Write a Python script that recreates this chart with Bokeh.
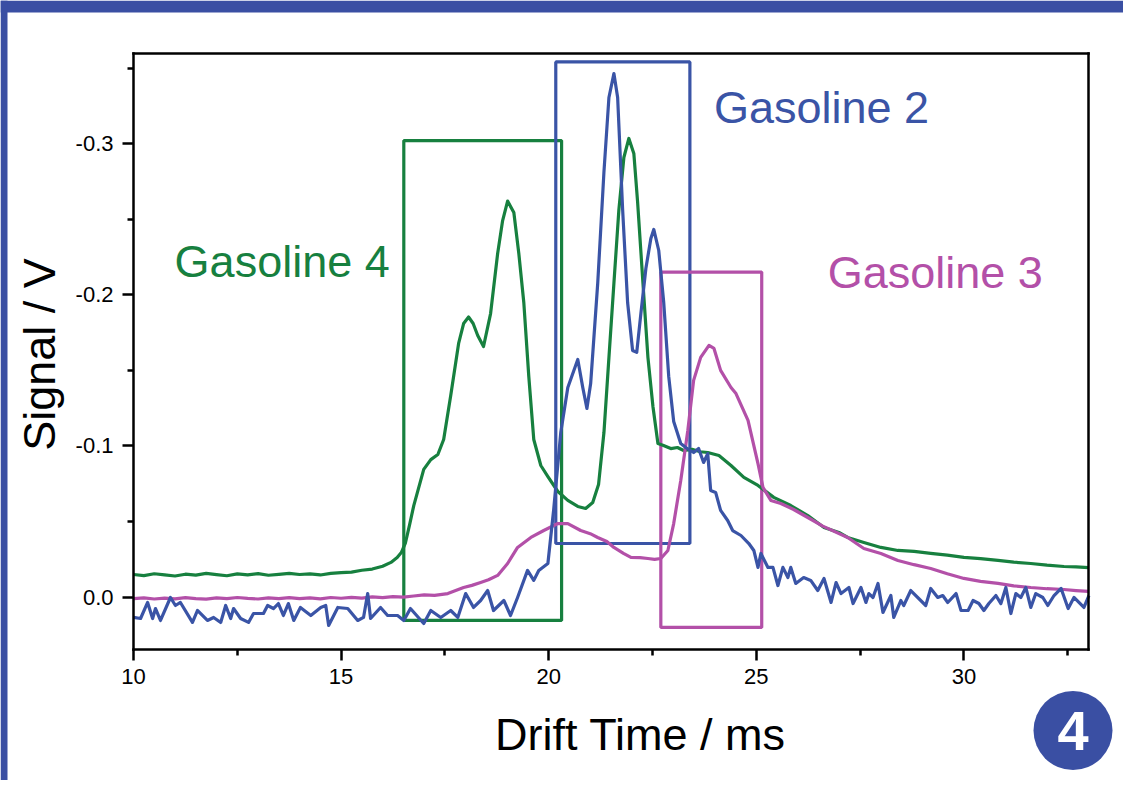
from bokeh.plotting import figure
from bokeh.models import Range1d, FixedTicker, PrintfTickFormatter, Label, BoxAnnotation, LinearAxis
from bokeh.embed import file_html
from bokeh.resources import INLINE

# ---------------- data ----------------
g4_x = [10.0,10.25,10.5,10.75,11.0,11.25,11.5,11.75,12.0,12.25,12.5,12.75,13.0,13.25,13.5,13.75,14.0,14.25,14.5,14.75,
        15.0,15.25,15.5,15.75,16.0,16.2,16.35,16.45,16.55,16.65,16.75,16.99,17.16,17.33,17.47,17.64,17.83,17.95,18.07,18.18,
        18.29,18.43,18.60,18.77,18.89,19.01,19.16,19.28,19.40,19.52,19.64,19.81,19.98,20.22,20.46,20.70,20.89,21.06,21.20,21.33,
        21.45,21.57,21.69,21.81,21.93,22.05,22.14,22.27,22.39,22.51,22.63,22.75,22.94,23.10,23.25,23.45,23.65,23.83,24.10,24.39,
        24.70,25.04,25.42,25.83,26.24,26.63,26.99,27.20,27.59,28.00,28.41,28.80,29.20,29.60,30.00,30.40,30.82,31.20,31.61,32.00,
        32.41,32.70,33.0]
g4_y = [-0.0150,-0.0143,-0.0155,-0.0147,-0.0140,-0.0152,-0.0146,-0.0157,-0.0149,-0.0142,-0.0154,-0.0148,-0.0156,-0.0145,-0.0151,-0.0158,-0.0150,-0.0154,-0.0147,-0.0157,
        -0.0162,-0.0166,-0.0178,-0.0186,-0.0205,-0.0230,-0.0262,-0.0295,-0.0360,-0.0480,-0.0606,-0.0845,-0.0910,-0.0944,-0.1043,-0.1334,-0.1678,-0.1810,-0.1853,-0.1810,
        -0.1731,-0.1658,-0.1876,-0.2273,-0.2491,-0.2620,-0.2544,-0.2273,-0.1949,-0.1460,-0.1043,-0.0871,-0.0798,-0.0699,-0.0640,-0.0600,-0.0587,-0.0626,-0.0745,-0.1089,
        -0.1585,-0.2075,-0.2564,-0.2908,-0.3034,-0.2935,-0.2617,-0.2075,-0.1585,-0.1261,-0.1016,-0.1005,-0.0983,-0.0990,-0.0970,-0.0978,-0.0962,-0.0957,-0.0937,-0.0871,
        -0.0792,-0.0739,-0.0660,-0.0606,-0.0540,-0.0461,-0.0428,-0.0395,-0.0362,-0.0329,-0.0309,-0.0303,-0.0290,-0.0278,-0.0263,-0.0255,-0.0243,-0.0232,-0.0223,-0.0212,
        -0.0203,-0.0200,-0.0196]

g3_x = [10.0,10.25,10.5,10.75,11.0,11.25,11.5,11.75,12.0,12.25,12.5,12.75,13.0,13.25,13.5,13.75,14.0,14.25,14.5,14.75,
        15.0,15.25,15.5,15.75,16.0,16.25,16.5,16.75,17.0,17.25,17.57,17.95,18.15,18.36,18.55,18.77,19.01,19.25,19.57,19.88,
        20.22,20.46,20.77,21.0,21.18,21.4,21.57,21.8,21.98,22.2,22.39,22.55,22.70,22.87,23.01,23.18,23.35,23.49,23.66,23.86,
        23.98,24.14,24.39,24.51,24.80,25.04,25.16,25.35,25.59,25.9,26.24,26.6,26.99,27.20,27.59,28.00,28.41,28.8,29.20,29.6,
        30.00,30.4,30.82,31.2,31.61,32.0,32.41,32.7,33.0]
g3_y = [0.0010,0.0004,0.0012,0.0006,0.0011,0.0003,0.0009,0.0013,0.0005,0.0010,0.0002,0.0008,0.0012,0.0004,0.0009,0.0003,0.0010,0.0005,0.0011,0.0002,
        0.0007,0.0001,0.0006,-0.0002,0.0003,-0.0004,0.0000,-0.0008,-0.0015,-0.0012,-0.0024,-0.0064,-0.0078,-0.0097,-0.0115,-0.0144,-0.0223,-0.0329,-0.0395,-0.0441,
        -0.0487,-0.0487,-0.0441,-0.0420,-0.0395,-0.0368,-0.0329,-0.0290,-0.0263,-0.0262,-0.0256,-0.0250,-0.0256,-0.0309,-0.0487,-0.0772,-0.1103,-0.1434,-0.1586,-0.1665,
        -0.1645,-0.1500,-0.1387,-0.1347,-0.1169,-0.0884,-0.0726,-0.0640,-0.0620,-0.0580,-0.0527,-0.0470,-0.0421,-0.0395,-0.0322,-0.0289,-0.0243,-0.0215,-0.0190,-0.0155,
        -0.0124,-0.0105,-0.0091,-0.0075,-0.0064,-0.0056,-0.0051,-0.0044,-0.0038]

g2_x = [10.00,10.17,10.34,10.46,10.53,10.65,10.89,11.01,11.13,11.42,11.54,11.78,11.93,12.10,12.22,12.34,12.41,12.58,12.77,12.89,
        13.13,13.23,13.37,13.49,13.61,13.73,13.86,14.02,14.27,14.51,14.63,14.70,14.92,15.16,15.40,15.54,15.64,15.71,15.95,16.12,
        16.36,16.51,16.67,16.99,17.16,17.40,17.64,17.81,18.00,18.19,18.36,18.53,18.67,18.92,19.08,19.25,19.49,19.64,19.76,19.98,
        20.12,20.29,20.46,20.70,20.82,20.92,21.01,21.18,21.33,21.45,21.57,21.66,21.78,21.90,22.02,22.12,22.22,22.34,22.46,22.53,
        22.65,22.77,22.89,23.01,23.18,23.30,23.49,23.61,23.73,23.83,23.90,24.02,24.14,24.31,24.43,24.63,24.82,24.94,25.04,25.11,
        25.28,25.40,25.52,25.64,25.76,25.83,25.95,26.14,26.31,26.48,26.63,26.80,26.92,27.04,27.23,27.33,27.52,27.64,27.71,27.81,
        27.93,28.05,28.24,28.31,28.48,28.55,28.72,29.08,29.20,29.37,29.49,29.61,29.81,29.93,30.10,30.22,30.36,30.48,30.60,30.77,
        30.89,31.01,31.13,31.25,31.37,31.49,31.61,31.73,31.90,32.02,32.17,32.34,32.51,32.65,32.89,33.01]
g2_y = [0.0134,0.0141,0.0035,0.0141,0.0075,0.0154,0.0002,0.0055,0.0035,0.0167,0.0088,0.0154,0.0134,0.0167,0.0055,0.0141,0.0075,0.0141,0.0167,0.0108,
        0.0108,0.0055,0.0075,0.0042,0.0121,0.0042,0.0154,0.0068,0.0121,0.0068,0.0055,0.0187,0.0068,0.0075,0.0154,0.0134,-0.0024,0.0141,0.0068,0.0121,
        0.0121,0.0154,0.0075,0.0174,0.0088,0.0134,0.0088,0.0134,-0.0024,0.0068,0.0022,-0.0044,0.0088,0.0022,0.0121,0.0002,-0.0177,-0.0111,-0.0177,-0.0223,
        -0.0580,-0.1089,-0.1387,-0.1572,-0.1387,-0.1248,-0.1413,-0.2075,-0.2812,-0.3305,-0.3463,-0.3305,-0.2564,-0.1949,-0.1632,-0.1619,-0.1877,-0.2174,-0.2373,-0.2432,
        -0.2293,-0.1949,-0.1460,-0.1162,-0.1016,-0.0990,-0.0957,-0.0983,-0.0891,-0.0950,-0.0706,-0.0693,-0.0574,-0.0507,-0.0441,-0.0408,-0.0355,-0.0309,-0.0197,-0.0289,
        -0.0197,-0.0197,-0.0077,-0.0197,-0.0130,-0.0197,-0.0091,-0.0130,-0.0111,-0.0044,-0.0124,0.0035,-0.0097,-0.0024,-0.0064,0.0042,-0.0064,0.0035,-0.0024,0.0002,
        -0.0091,0.0101,-0.0011,0.0134,0.0022,0.0055,-0.0044,0.0055,-0.0058,0.0002,-0.0011,0.0035,-0.0024,0.0088,0.0088,0.0022,0.0042,0.0088,0.0042,-0.0011,
        0.0042,-0.0064,0.0108,-0.0024,0.0002,-0.0064,0.0068,-0.0024,0.0002,0.0055,-0.0011,-0.0058,0.0075,0.0002,0.0068,-0.0011]

# highlight boxes: Gasoline 4, Gasoline 2, Gasoline 3
box_left = [16.51, 20.17, 22.70]
box_right = [20.31, 23.40, 25.13]
box_top = [-0.302, -0.354, -0.215]
box_bottom = [0.0154, -0.0355, 0.0200]

series_names = ["Gasoline 4", "Gasoline 2", "Gasoline 3"]
label_x = [10.99, 23.98, 26.72]
label_y = [-0.2114, -0.3133, -0.2042]   # text baselines

x_ticks = [10, 15, 20, 25, 30]
x_minor = [12.5, 17.5, 22.5, 27.5, 32.5]
y_ticks = [0.0, -0.1, -0.2, -0.3]
y_minor = [-0.05, -0.15, -0.25, -0.35]

# axis extents
X0, X1 = 10.0, 33.0
Y_BOTTOM, Y_TOP = 0.0346, -0.3596

GREEN = "#17803f"
BLUE = "#3a54a6"
MAGENTA = "#b350a8"
BAND = "#3a4fa3"
colors = [GREEN, BLUE, MAGENTA]
FONT = "Liberation Sans"

# ---------------- layout (pixels) ----------------
W, H = 1123, 780
PX_L, PX_R, PX_T, PX_B = 133, 1088, 53, 649
sx = (PX_R - PX_L) / (X1 - X0)
sy = (PX_B - PX_T) / (Y_BOTTOM - Y_TOP)
x_range = Range1d(X0 - PX_L / sx, X1 + (W - PX_R) / sx)
y_range = Range1d(Y_BOTTOM + (H - PX_B) / sy, Y_TOP - PX_T / sy)
BASE_SHIFT = 0.35   # renderer puts alphabetic baseline this many em lower

p = figure(width=W, height=H, output_backend="svg", toolbar_location=None,
           x_range=x_range, y_range=y_range, x_axis_location=None, y_axis_location=None,
           min_border=0, min_border_left=0, min_border_right=0, min_border_top=0, min_border_bottom=0)
p.background_fill_color = "white"
p.border_fill_color = "white"
p.outline_line_color = None
p.xgrid.visible = False
p.ygrid.visible = False


def style_axis(ax, ticks, minor, show):
    ax.ticker = FixedTicker(ticks=ticks if show else [], minor_ticks=minor if show else [])
    ax.axis_line_color = "black"
    ax.axis_line_width = 2.5
    ax.axis_line_cap = "square"
    ax.major_tick_line_color = "black"
    ax.major_tick_line_width = 2.5
    ax.minor_tick_line_color = "black"
    ax.minor_tick_line_width = 2.5
    ax.major_tick_in = 0
    ax.minor_tick_in = 0
    ax.major_tick_out = 11
    ax.minor_tick_out = 6
    ax.major_label_text_font = FONT
    ax.major_label_text_font_size = "22px"
    ax.major_label_text_color = "black"


xb = LinearAxis(fixed_location=Y_BOTTOM, bounds=(X0, X1))
style_axis(xb, x_ticks, x_minor, True)
xb.major_label_standoff = 8
p.add_layout(xb, "below")

yl = LinearAxis(fixed_location=X0, bounds=(Y_TOP, Y_BOTTOM))
style_axis(yl, y_ticks, y_minor, True)
yl.formatter = PrintfTickFormatter(format="%.1f")
yl.major_label_standoff = 9
p.add_layout(yl, "left")

xt = LinearAxis(fixed_location=Y_TOP, bounds=(X0, X1))
style_axis(xt, x_ticks, x_minor, False)
p.add_layout(xt, "above")

yr = LinearAxis(fixed_location=X1, bounds=(Y_TOP, Y_BOTTOM))
style_axis(yr, y_ticks, y_minor, False)
p.add_layout(yr, "right")

# boxes
p.quad(left=box_left, right=box_right, top=box_top, bottom=box_bottom,
       fill_alpha=0, line_color=colors, line_width=3.2)

# curves
p.line(g4_x, g4_y, line_color=GREEN, line_width=3.2, line_join="round")
p.line(g3_x, g3_y, line_color=MAGENTA, line_width=3.2, line_join="round")
p.line(g2_x, g2_y, line_color=BLUE, line_width=3.2, line_join="round")

# series labels
for name, lx, ly, c in zip(series_names, label_x, label_y, colors):
    p.add_layout(Label(x=lx, y=ly, y_offset=BASE_SHIFT * 45, text=name, text_color=c, text_font=FONT,
                       text_font_size="45px", text_align="left", text_baseline="alphabetic"))

# axis titles (screen units: from left, from bottom)
p.add_layout(Label(x=640, y=H - 750 + BASE_SHIFT * 45, x_units="screen", y_units="screen", text="Drift Time / ms",
                   text_font=FONT, text_font_size="45px", text_color="black",
                   text_align="center", text_baseline="alphabetic"))
p.add_layout(Label(x=55 - BASE_SHIFT * 45, y=H - 354, x_units="screen", y_units="screen", text="Signal / V",
                   angle=1.5707963, text_font=FONT, text_font_size="45px", text_color="black",
                   text_align="center", text_baseline="alphabetic"))

# decorative frame bands
p.add_layout(BoxAnnotation(left=0, right=W, top=H, bottom=H - 12,
                           left_units="screen", right_units="screen", top_units="screen", bottom_units="screen",
                           fill_color=BAND, fill_alpha=1, line_alpha=0))
p.add_layout(BoxAnnotation(left=0, right=7, top=H, bottom=0,
                           left_units="screen", right_units="screen", top_units="screen", bottom_units="screen",
                           fill_color=BAND, fill_alpha=1, line_alpha=0))

# badge
bx = X0 + (1072.5 - PX_L) / sx
by = Y_BOTTOM + (730 - PX_B) / sy
p.scatter(x=[bx], y=[by], size=79, marker="circle", fill_color=BAND, line_color=None)
p.add_layout(Label(x=1072.5, y=H - 750 + BASE_SHIFT * 56, x_units="screen", y_units="screen", text="4",
                   text_font=FONT, text_font_style="bold", text_font_size="56px", text_color="white",
                   text_align="center", text_baseline="alphabetic"))

open("out.html", "w").write(file_html(p, INLINE))
